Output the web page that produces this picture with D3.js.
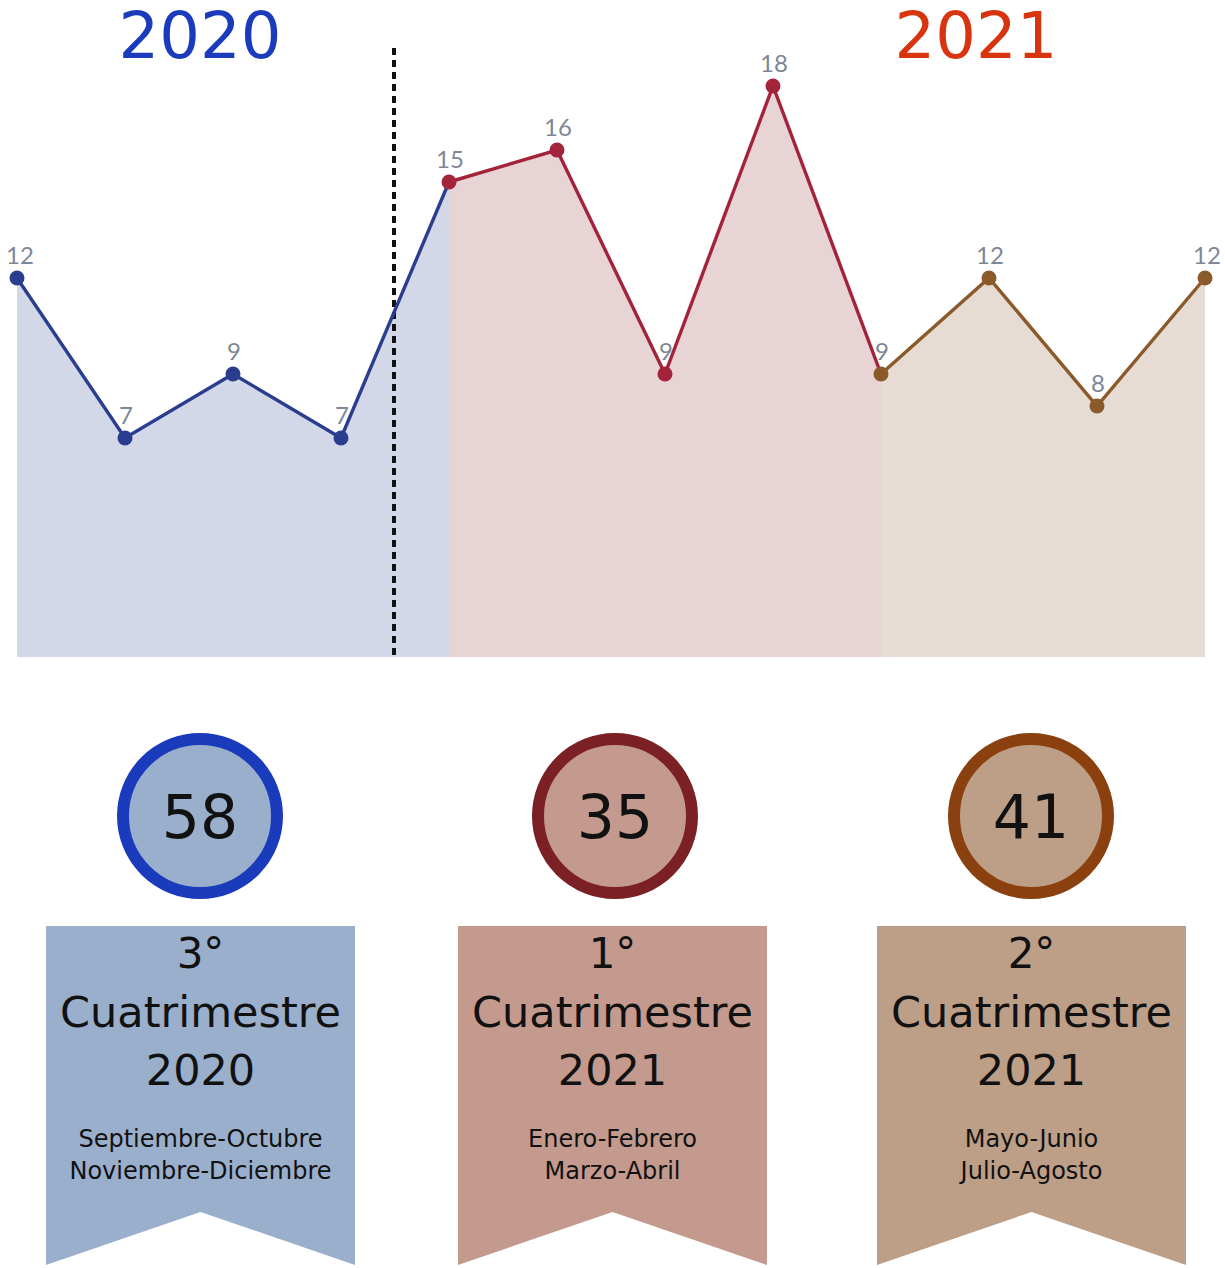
<!DOCTYPE html>
<html>
<head>
<meta charset="utf-8">
<script src="https://cdn.jsdelivr.net/npm/d3@7"></script>
<style>
  body { margin: 0; background: #fff; }
  svg { display: block; }
</style>
</head>
<body>
<div id="chart"></div>
<script>
// monthly values, 12 points (Sep 2020 .. Aug 2021)
const values = [12, 7, 9, 7, 15, 16, 9, 18, 9, 12, 8, 12];
// segments: [start index, end index] for each cuatrimestre
const segments = [[0, 4], [4, 8], [8, 11]];
const segLine = ["#2b3d8f", "#a3233a", "#8b5a2b"];
const segArea = ["#d3d8e8", "#e8d3d5", "#e6dcd4"];
const years = ["2020", "2021"];
const yearColors = ["#1a3bbb", "#d8340f"];

const totals = [58, 35, 41];
const ranks = ["3°", "1°", "2°"];
const periodYears = ["2020", "2021", "2021"];
const months = [["Septiembre-Octubre", "Noviembre-Diciembre"], ["Enero-Febrero", "Marzo-Abril"], ["Mayo-Junio", "Julio-Agosto"]];
const ringColors = ["#1a3bbb", "#7b2024", "#8b4010"];
const fillColors = ["#9aafcb", "#c4998e", "#bd9f88"];

const width = 1225, height = 1268;
const font = "DejaVu Sans";
const svg = d3.select("#chart").append("svg")
    .attr("width", width)
    .attr("height", height);

const x = d3.scaleLinear().domain([0, values.length - 1]).range([17, 1205]);
const y = d3.scaleLinear().domain([0, 18]).range([662, 86]);
const bottom = 657;

// areas first
segments.forEach((s, i) => {
    let pts = d3.range(s[0], s[1] + 1).map(k => [k, values[k]]);
    let area = d3.area()
        .x(d => x(d[0]))
        .y0(bottom)
        .y1(d => y(d[1]));
    svg.append("path")
        .attr("d", area(pts))
        .attr("fill", segArea[i]);
});

// dashed separator between years
svg.append("line")
    .attr("x1", (x(3) + x(4)) / 2 - 1)
    .attr("x2", (x(3) + x(4)) / 2 - 1)
    .attr("y1", 48)
    .attr("y2", bottom)
    .attr("stroke", "#111")
    .attr("stroke-width", 4)
    .attr("stroke-dasharray", "7,5");

// lines
segments.forEach((s, i) => {
    let pts = d3.range(s[0], s[1] + 1).map(k => [k, values[k]]);
    let line = d3.line()
        .x(d => x(d[0]))
        .y(d => y(d[1]));
    svg.append("path")
        .attr("d", line(pts))
        .attr("fill", "none")
        .attr("stroke", segLine[i])
        .attr("stroke-width", 3.4);
});

// dots + labels
function segOf(k) {
    if (k < 4) return 0;
    if (k < 8) return 1;
    return 2;
}
svg.selectAll("circle.dot")
    .data(values)
    .enter()
    .append("circle")
    .attr("class", "dot")
    .attr("cx", (d, i) => x(i))
    .attr("cy", d => y(d))
    .attr("r", 7.5)
    .attr("fill", (d, i) => segLine[segOf(i)]);

svg.selectAll("text.val")
    .data(values)
    .enter()
    .append("text")
    .attr("class", "val")
    .attr("x", (d, i) => x(i) + (i == 0 ? 3 : (i == values.length - 1 ? 2 : 1)))
    .attr("y", d => y(d) - 14)
    .attr("text-anchor", "middle")
    .style("font-family", "Lato")
    .style("font-size", "24px")
    .style("fill", "#7d8796")
    .text(d => d);

// year titles
[200, 976].forEach((cx, i) => {
    svg.append("text")
        .attr("x", cx)
        .attr("y", 58)
        .attr("text-anchor", "middle")
        .style("font-family", font)
        .style("font-size", "64px")
        .style("fill", yearColors[i])
        .text(years[i]);
});

// bottom badges
const circleX = [200, 615, 1031];
const ribbonX = [200.5, 612.5, 1031.5];
const bw = 309;
circleX.forEach((cx, i) => {
    svg.append("circle")
        .attr("cx", cx)
        .attr("cy", 816)
        .attr("r", 77)
        .attr("fill", fillColors[i])
        .attr("stroke", ringColors[i])
        .attr("stroke-width", 12);
    svg.append("text")
        .attr("x", cx)
        .attr("y", 838)
        .attr("text-anchor", "middle")
        .style("font-family", font)
        .style("font-size", "60px")
        .style("fill", "#111")
        .text(totals[i]);

    let g = svg.append("g").attr("transform", "translate(" + ribbonX[i] + ",0)");
    // ribbon
    g.append("path")
        .attr("d", "M" + (-bw / 2) + ",926 L" + (bw / 2) + ",926 L" + (bw / 2) + ",1265 L0,1212 L" + (-bw / 2) + ",1265 Z")
        .attr("fill", fillColors[i]);

    g.append("text")
        .attr("y", 968)
        .attr("text-anchor", "middle")
        .style("font-family", font)
        .style("font-size", "42px")
        .style("fill", "#111")
        .text(ranks[i]);
    g.append("text")
        .attr("y", 1027)
        .attr("text-anchor", "middle")
        .style("font-family", font)
        .style("font-size", "43px")
        .style("fill", "#111")
        .text("Cuatrimestre");
    g.append("text")
        .attr("y", 1085)
        .attr("text-anchor", "middle")
        .style("font-family", font)
        .style("font-size", "43px")
        .style("fill", "#111")
        .text(periodYears[i]);
    months[i].forEach((m, j) => {
        g.append("text")
            .attr("y", 1147 + j * 32)
            .attr("text-anchor", "middle")
            .style("font-family", font)
            .style("font-size", "24px")
            .style("fill", "#111")
            .text(m);
    });
});
</script>
</body>
</html>
